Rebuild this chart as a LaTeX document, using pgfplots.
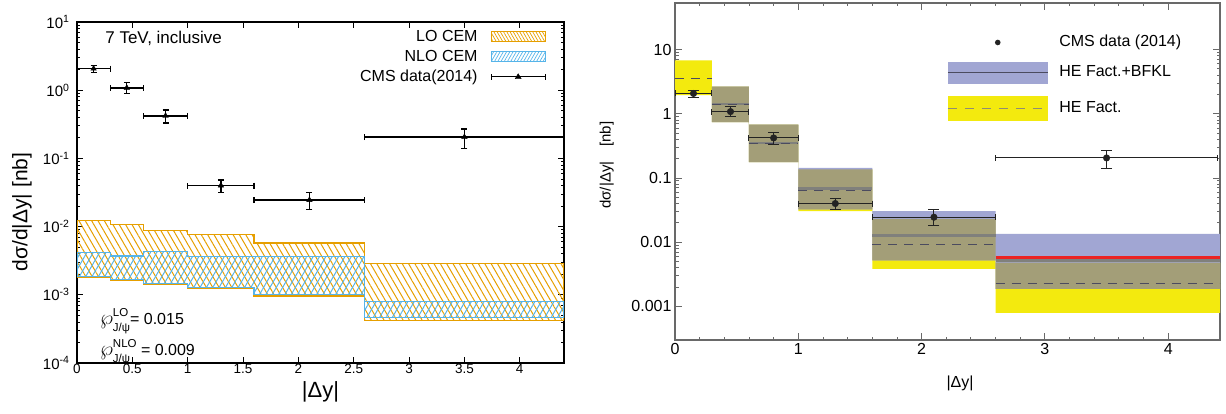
\documentclass[border=0pt]{standalone}
\usepackage{fontspec}
\setmainfont{Liberation Sans}
\usepackage{pgfplots}
\pgfplotsset{compat=1.18}
\usepackage{pgfplotstable}
\usetikzlibrary{patterns.meta}

\definecolor{lorange}{RGB}{230,159,0}
\definecolor{lblue}{RGB}{86,180,233}
\definecolor{hyellow}{RGB}{243,234,14}
\definecolor{hblue}{RGB}{161,166,211}
\definecolor{holive}{RGB}{163,158,120}
\definecolor{hgray}{RGB}{128,128,124}
\definecolor{hdash}{RGB}{75,75,95}
\definecolor{hred}{RGB}{235,35,35}
\definecolor{hdata}{RGB}{35,35,35}
\definecolor{haxis}{RGB}{105,105,105}
\newcommand\fsz[1]{\fontsize{#1bp}{#1bp}\selectfont}
\newsavebox\supbox
\newsavebox\subbox
\newcommand\wpsym[1]{\sbox\supbox{\fsz{11.5}#1}\sbox\subbox{\fsz{11.5}J/ψ}{\fsz{19}$\wp$}\rlap{\raisebox{8.5bp}{\usebox\supbox}}\rlap{\raisebox{-7bp}{\usebox\subbox}}\ifdim\wd\supbox>\wd\subbox\hspace*{\wd\supbox}\else\hspace*{\wd\subbox}\fi}

\pgfplotstableread{
x y exm exp eym eyp
0.15 2.07 0.15 0.15 0.27 0.23
0.45 1.08 0.15 0.15 0.18 0.22
0.80 0.42 0.20 0.20 0.09 0.09
1.30 0.040 0.30 0.30 0.008 0.008
2.10 0.0245 0.50 0.50 0.0065 0.0075
3.50 0.205 0.90 0.90 0.065 0.065
}\cmsdata

\begin{document}
\begin{tikzpicture}
\path[use as bounding box] (0,0) rectangle (1226bp,414bp);
% ---------------- left panel ----------------
\begin{axis}[
  at={(77bp,51bp)}, anchor=south west,
  scale only axis, width=487bp, height=341bp,
  xmin=0, xmax=4.4, ymode=log, ymin=1e-4, ymax=10,
  xtick={0,0.5,1,1.5,2,2.5,3,3.5,4},
  xticklabels={0,0.5,1,1.5,2,2.5,3,3.5,4},
  ytick={1e-4,1e-3,1e-2,1e-1,1,10},
  yticklabels={10\textsuperscript{-4},10\textsuperscript{-3},10\textsuperscript{-2},10\textsuperscript{-1},10\textsuperscript{0},10\textsuperscript{1}},
  axis line style={line width=1.3bp},
  major tick length=6bp, minor tick length=3bp,
  every tick/.style={black, line width=0.8bp},
  xticklabel style={font=\fsz{13.5}, inner sep=1bp},
  yticklabel style={font=\fsz{15}, xshift=-4bp},
  xlabel={|Δy|}, xlabel style={font=\fsz{22}, at={(axis description cs:0.5,-0.085)}, anchor=center},
  ylabel={dσ/d|Δy| [nb]}, ylabel style={font=\fsz{21}, at={(axis description cs:-0.113,0.443)}, anchor=center},
  legend plot pos=right, legend cell align=right,
  legend style={draw=none, fill=none, at={(axis description cs:0.963,0.978)}, anchor=north east,
    font=\fsz{16}, inner sep=0pt, row sep=6bp,
    nodes={inner sep=0pt, text height=11.5bp, text depth=2.5bp},
    /tikz/every odd column/.append style={column sep=13bp}},
]
% LO CEM band
\addplot[forget plot, draw=lorange, line width=1.2bp, pattern={Lines[angle=-60,distance=5.5bp,line width=1bp]}, pattern color=lorange]
 coordinates {(0,0.0123) (0.3,0.0123) (0.3,0.0108) (0.6,0.0108) (0.6,0.0088) (1.0,0.0088) (1.0,0.0077) (1.6,0.0077) (1.6,0.00576) (2.6,0.00576) (2.6,0.0029) (4.4,0.0029)
  (4.4,0.000425) (2.6,0.000425) (2.6,0.00096) (1.6,0.00096) (1.6,0.00124) (1.0,0.00124) (1.0,0.00142) (0.6,0.00142) (0.6,0.00162) (0.3,0.00162) (0.3,0.00179) (0,0.00179) (0,0.0123)} -- cycle;
% NLO CEM band
\addplot[forget plot, draw=lblue, line width=1.2bp, pattern={Lines[angle=60,distance=5.5bp,line width=1bp]}, pattern color=lblue]
 coordinates {(0,0.00412) (0.3,0.00412) (0.3,0.00371) (0.6,0.00371) (0.6,0.00431) (1.0,0.00431) (1.0,0.00368) (1.6,0.00368) (1.6,0.00362) (2.6,0.00362) (2.6,0.00079) (4.4,0.00079)
  (4.4,0.00047) (2.6,0.00047) (2.6,0.00102) (1.6,0.00102) (1.6,0.00129) (1.0,0.00129) (1.0,0.00147) (0.6,0.00147) (0.6,0.00167) (0.3,0.00167) (0.3,0.00187) (0,0.00187) (0,0.00412)} -- cycle;
% CMS data
\addplot[forget plot, black, only marks, mark=triangle*, mark size=3.2bp, mark options={line width=0.4bp},
  error bars/.cd, x dir=both, x explicit, y dir=both, y explicit,
  error bar style={line width=1.3bp, black},
  error mark options={rotate=90, mark size=3bp, line width=1.3bp, black}]
  table[x=x, y=y, x error minus=exm, x error plus=exp, y error minus=eym, y error plus=eyp] {\cmsdata};

\addlegendimage{legend image code/.code={\draw[lorange, line width=1bp, pattern={Lines[angle=-60,distance=2.8bp,line width=0.7bp]}, pattern color=lorange] (0bp,-5bp) rectangle (54bp,5bp);}}
\addlegendentry{LO CEM}
\addlegendimage{legend image code/.code={\draw[lblue, line width=1bp, pattern={Lines[angle=60,distance=2.8bp,line width=0.7bp]}, pattern color=lblue] (0bp,-5bp) rectangle (54bp,5bp);}}
\addlegendentry{NLO CEM}
\addlegendimage{legend image code/.code={\draw[black, line width=1.2bp] (0bp,0bp) -- (54bp,0bp) (0bp,-3bp) -- (0bp,3bp) (54bp,-3bp) -- (54bp,3bp); \fill[black] (27bp,3bp) -- (24bp,-2bp) -- (30bp,-2bp) -- cycle;}}
\addlegendentry{CMS data(2014)}

\node[anchor=west, font=\fsz{17}] at (axis description cs:0.051,0.953) {7 TeV, inclusive};
\node[anchor=base west, font=\fsz{16}, inner sep=0pt] at (axis description cs:0.047,0.112) {\wpsym{LO}= 0.015};
\node[anchor=base west, font=\fsz{16}, inner sep=0pt] at (axis description cs:0.047,0.021) {\wpsym{NLO} = 0.009};
\end{axis}

% ---------------- right panel ----------------
\begin{axis}[
  at={(675bp,74bp)}, anchor=south west,
  scale only axis, width=545bp, height=337bp,
  xmin=0, xmax=4.42, ymode=log, ymin=3e-4, ymax=53,
  xtick={0,1,2,3,4}, xticklabels={0,1,2,3,4}, minor x tick num=4,
  ytick={0.001,0.01,0.1,1,10}, yticklabels={0.001,0.01,0.1,1,10},
  axis line style={haxis, line width=1.3bp},
  every tick/.style={haxis, line width=0.9bp},
  major tick length=7bp, minor tick length=3.5bp,
  tick label style={font=\fsz{16}},
  xlabel={|Δy|}, xlabel style={font=\fsz{16}, at={(axis description cs:0.523,-0.128)}, anchor=center},
  ylabel={dσ/|Δy|\quad [nb]}, ylabel style={font=\fsz{15}, at={(axis description cs:-0.125,0.519)}, anchor=center},
  legend cell align=left,
  legend style={draw=none, fill=none, at={(axis description cs:0.499,0.905)}, anchor=north west,
    font=\fsz{16}, inner sep=0pt, row sep=12bp,
    nodes={inner sep=0pt, text height=11.5bp, text depth=3bp},
    /tikz/every odd column/.append style={column sep=11bp}},
]
% HE Fact. band (yellow)
\addplot[forget plot, draw=none, fill=hyellow]
 coordinates {(0,6.8) (0.3,6.8) (0.3,2.65) (0.6,2.65) (0.6,0.68) (1.0,0.68) (1.0,0.1355) (1.6,0.1355) (1.6,0.0231) (2.6,0.0231) (2.6,0.0048) (4.42,0.0048)
  (4.42,0.00079) (2.6,0.00079) (2.6,0.00385) (1.6,0.00385) (1.6,0.0305) (1.0,0.0305) (1.0,0.176) (0.6,0.176) (0.6,0.74) (0.3,0.74) (0.3,1.95) (0,1.95) (0,6.8)} -- cycle;
% HE Fact.+BFKL band (blue)
\addplot[forget plot, draw=none, fill=hblue]
 coordinates {(0.3,2.65) (0.6,2.65) (0.6,0.68) (1.0,0.68) (1.0,0.144) (1.6,0.144) (1.6,0.0305) (2.6,0.0305) (2.6,0.0135) (4.42,0.0135)
  (4.42,0.00188) (2.6,0.00188) (2.6,0.0052) (1.6,0.0052) (1.6,0.0323) (1.0,0.0323) (1.0,0.176) (0.6,0.176) (0.6,0.74) (0.3,0.74) (0.3,2.65)} -- cycle;
% overlap of both bands
\addplot[forget plot, draw=none, fill=holive]
 coordinates {(0.3,2.65) (0.6,2.65) (0.6,0.68) (1.0,0.68) (1.0,0.1355) (1.6,0.1355) (1.6,0.0231) (2.6,0.0231) (2.6,0.0048) (4.42,0.0048)
  (4.42,0.00188) (2.6,0.00188) (2.6,0.0052) (1.6,0.0052) (1.6,0.0323) (1.0,0.0323) (1.0,0.176) (0.6,0.176) (0.6,0.74) (0.3,0.74) (0.3,2.65)} -- cycle;
% gray central lines
\addplot[forget plot, hgray, line width=2.6bp, jump mark left]
 coordinates {(0.3,1.41) (0.6,0.35) (1.0,0.068) (1.6,0.0126) (2.6,0.0052) (4.42,0.0052)};
% red line
\addplot[forget plot, hred, line width=3bp] coordinates {(2.6,0.00585) (4.42,0.00585)};
% dashed central lines
\addplot[forget plot, hdash, line width=1bp, dash pattern=on 9bp off 7bp, jump mark left]
 coordinates {(0,3.55) (0.3,1.41) (0.6,0.34) (1.0,0.064) (1.6,0.0091) (2.6,0.00225) (4.42,0.00225)};
% CMS data: x errors
\addplot[forget plot, hdata, draw=none, mark=none,
  error bars/.cd, x dir=both, x explicit,
  error bar style={line width=1bp, hdata},
  error mark options={rotate=90, mark size=3bp, line width=1bp, hdata}]
  table[x=x, y=y, x error minus=exm, x error plus=exp] {\cmsdata};
% CMS data: y errors and points
\addplot[forget plot, hdata, only marks, mark=*, mark size=3.3bp,
  error bars/.cd, y dir=both, y explicit,
  error bar style={line width=1bp, hdata},
  error mark options={rotate=90, mark size=5.5bp, line width=1bp, hdata}]
  table[x=x, y=y, y error minus=eym, y error plus=eyp] {\cmsdata};

\addlegendimage{legend image code/.code={\path[draw=none, fill=none] (0bp,-4bp) rectangle (100bp,4bp); \fill[hdata, draw=none] (50bp,0bp) circle (2.8bp);}}
\addlegendentry{CMS data (2014)}
\addlegendimage{legend image code/.code={\fill[hblue, draw=none] (0bp,-11bp) rectangle (100bp,11bp); \draw[hdash, line width=1bp] (0bp,0bp) -- (100bp,0bp);}}
\addlegendentry{HE Fact.+BFKL}
\addlegendimage{legend image code/.code={\fill[hyellow, draw=none] (0bp,-12.5bp) rectangle (100bp,12.5bp); \draw[gray!80!olive, line width=1.2bp, dash pattern=on 9bp off 8bp] (0bp,0bp) -- (100bp,0bp);}}
\addlegendentry{HE Fact.}
\end{axis}
\end{tikzpicture}
\end{document}
